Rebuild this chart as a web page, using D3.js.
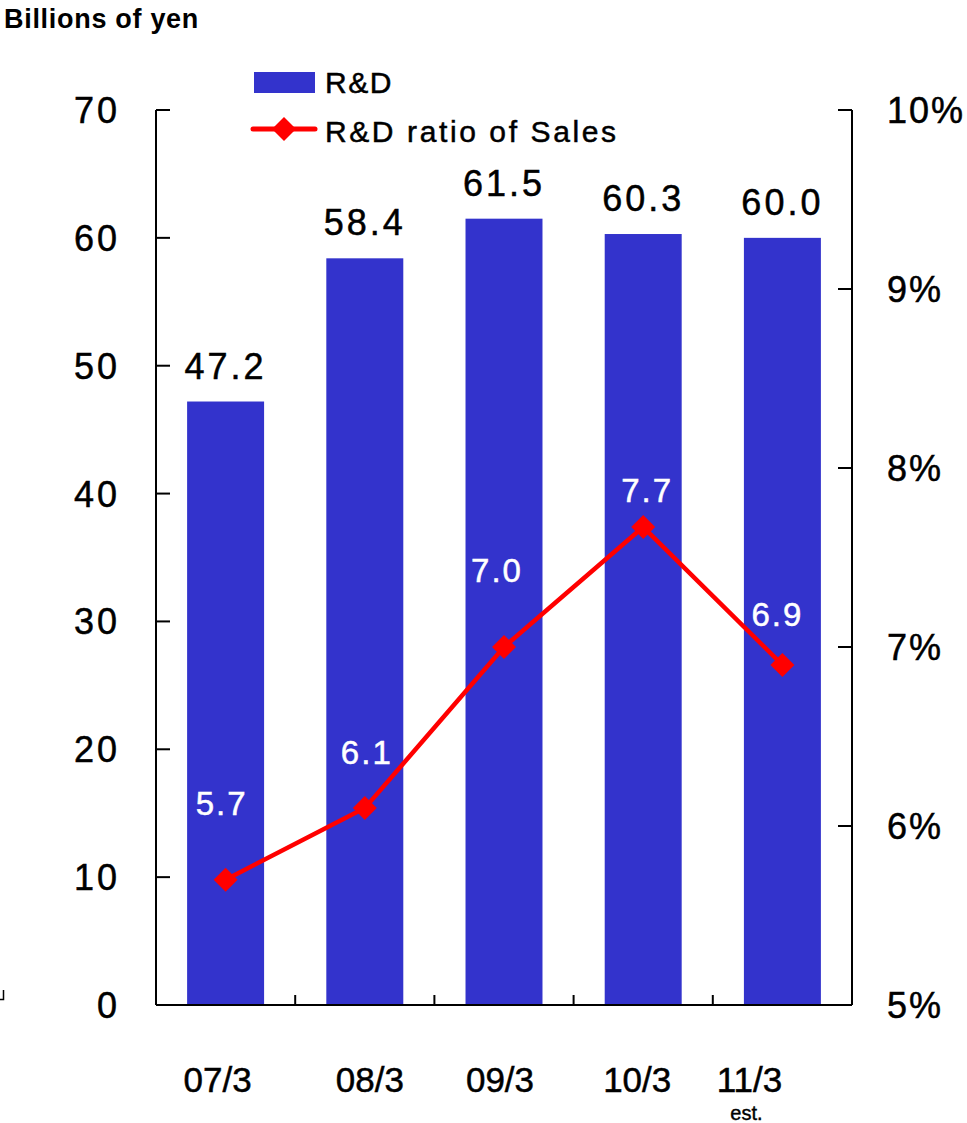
<!DOCTYPE html>
<html>
<head>
<meta charset="utf-8">
<script src="https://cdn.jsdelivr.net/npm/d3@7"></script>
<style>
  html, body { margin: 0; padding: 0; background: #fff; }
  svg { display: block; font-family: "Liberation Sans", Arial, sans-serif; }
</style>
</head>
<body>
<svg id="chart" width="967" height="1123"></svg>
<script>
// ---- data ----
const categories = ["07/3", "08/3", "09/3", "10/3", "11/3"];
const rdValues = [47.2, 58.4, 61.5, 60.3, 60.0];
const ratioValues = [5.7, 6.1, 7.0, 7.67, 6.9];
const ratioLabels = ["5.7", "6.1", "7.0", "7.7", "6.9"];
const leftTicks = [0, 10, 20, 30, 40, 50, 60, 70];
const rightTicks = [5, 6, 7, 8, 9, 10];
const subLabel = "est.";

// ---- layout (label nudges, not data) ----
const ratioLabelOffsets = [[-4, -65], [2, -44], [-7, -65], [4, -25], [-5, -39]];
const xLabelOffsets = [-8, 5, -4, -6, -33];

(function () {
const svg = d3.select("#chart");
const pLeft = 156, pRight = 852, pTop = 110, pBottom = 1005;
const barColor = "#3333CC", lineColor = "#FF0000";

const x = d3.scaleBand().domain(categories).range([pLeft, pRight])
  .paddingInner(0.447).paddingOuter(0.2235);
const yL = d3.scaleLinear().domain([0, 70]).range([pBottom, pTop]);
const yR = d3.scaleLinear().domain([5, 10]).range([pBottom, pTop]);

// title
svg.append("text").attr("x", 4).attr("y", 28)
  .attr("font-size", 27).attr("font-weight", "bold").attr("letter-spacing", 0.7)
  .attr("fill", "#000").text("Billions of yen");

// bars
svg.selectAll("rect.bar").data(rdValues).join("rect")
  .attr("class", "bar")
  .attr("x", (d, i) => x(categories[i]))
  .attr("width", x.bandwidth())
  .attr("y", d => yL(d))
  .attr("height", d => yL(0) - yL(d))
  .attr("fill", barColor);

// bar value labels
svg.selectAll("text.barlab").data(rdValues).join("text")
  .attr("class", "barlab")
  .attr("x", (d, i) => x(categories[i]) + x.bandwidth() / 2)
  .attr("y", d => yL(d) - 23)
  .attr("text-anchor", "middle")
  .attr("font-size", 36).attr("letter-spacing", 3)
  .attr("fill", "#000").attr("stroke", "#000").attr("stroke-width", 0.5)
  .text(d => d.toFixed(1));

// axes frame
const ax = svg.append("g").attr("stroke", "#000").attr("stroke-width", 2).attr("fill", "none");
ax.append("line").attr("x1", pLeft).attr("x2", pLeft).attr("y1", pTop).attr("y2", pBottom);
ax.append("line").attr("x1", pRight).attr("x2", pRight).attr("y1", pTop).attr("y2", pBottom);
ax.append("line").attr("x1", pLeft).attr("x2", pRight).attr("y1", pBottom).attr("y2", pBottom);

// left ticks (inward)
ax.selectAll("line.lt").data(leftTicks).join("line").attr("class", "lt")
  .attr("x1", pLeft).attr("x2", pLeft + 14)
  .attr("y1", d => yL(d)).attr("y2", d => yL(d));
// right ticks (inward)
ax.selectAll("line.rt").data(rightTicks).join("line").attr("class", "rt")
  .attr("x1", pRight - 14).attr("x2", pRight)
  .attr("y1", d => yR(d)).attr("y2", d => yR(d));
// bottom boundary ticks
const halfGap = (x.step() - x.bandwidth()) / 2;
ax.selectAll("line.bt").data(categories.slice(1)).join("line").attr("class", "bt")
  .attr("x1", d => x(d) - halfGap).attr("x2", d => x(d) - halfGap)
  .attr("y1", pBottom).attr("y2", pBottom - 10);

// left tick labels
svg.selectAll("text.ll").data(leftTicks).join("text").attr("class", "ll")
  .attr("x", 120).attr("y", d => yL(d) + 13)
  .attr("text-anchor", "end")
  .attr("font-size", 36).attr("letter-spacing", 3)
  .attr("fill", "#000").attr("stroke", "#000").attr("stroke-width", 0.5).text(d => d);

// right tick labels
svg.selectAll("text.rl").data(rightTicks).join("text").attr("class", "rl")
  .attr("x", 887).attr("y", d => yR(d) + 13)
  .attr("font-size", 36).attr("letter-spacing", 2)
  .attr("fill", "#000").attr("stroke", "#000").attr("stroke-width", 0.5).text(d => d + "%");

// x labels
svg.selectAll("text.xl").data(categories).join("text").attr("class", "xl")
  .attr("x", (d, i) => x(d) + x.bandwidth() / 2 + xLabelOffsets[i])
  .attr("y", 1092)
  .attr("text-anchor", "middle")
  .attr("font-size", 35)
  .attr("fill", "#000").attr("stroke", "#000").attr("stroke-width", 0.5).text(d => d);
svg.append("text")
  .attr("x", x(categories[4]) + x.bandwidth() / 2 - 36).attr("y", 1120)
  .attr("text-anchor", "middle").attr("font-size", 20)
  .attr("fill", "#000").attr("stroke", "#000").attr("stroke-width", 0.4).text(subLabel);

// ratio line
const px = (d, i) => x(categories[i]) + x.bandwidth() / 2;
const line = d3.line().x((d, i) => px(d, i)).y(d => yR(d));
svg.append("path").datum(ratioValues)
  .attr("d", line).attr("fill", "none")
  .attr("stroke", lineColor).attr("stroke-width", 4.5).attr("stroke-linejoin", "round");

const diamond = r => `M0,${-r}L${r},0L0,${r}L${-r},0Z`;
svg.selectAll("path.mk").data(ratioValues).join("path").attr("class", "mk")
  .attr("transform", (d, i) => `translate(${px(d, i)},${yR(d)})`)
  .attr("d", diamond(12)).attr("fill", lineColor);

// ratio labels (white)
svg.selectAll("text.rlab").data(ratioValues).join("text").attr("class", "rlab")
  .attr("x", (d, i) => px(d, i) + ratioLabelOffsets[i][0])
  .attr("y", (d, i) => yR(d) + ratioLabelOffsets[i][1])
  .attr("text-anchor", "middle")
  .attr("font-size", 33).attr("letter-spacing", 2)
  .attr("fill", "#fff").attr("stroke", "#fff").attr("stroke-width", 0.5).text((d, i) => ratioLabels[i]);

// legend
const lg = svg.append("g");
lg.append("rect").attr("x", 254).attr("y", 72).attr("width", 61).attr("height", 21).attr("fill", barColor);
lg.append("text").attr("x", 325).attr("y", 93).attr("font-size", 30).attr("letter-spacing", 1.5)
  .attr("fill", "#000").attr("stroke", "#000").attr("stroke-width", 0.5).text("R&D");
lg.append("line").attr("x1", 253).attr("x2", 315).attr("y1", 129).attr("y2", 129)
  .attr("stroke", lineColor).attr("stroke-width", 5).attr("stroke-linecap", "round");
lg.append("path").attr("transform", "translate(284,129)").attr("d", diamond(12)).attr("fill", lineColor);
lg.append("text").attr("x", 325).attr("y", 142).attr("font-size", 30).attr("letter-spacing", 2.6)
  .attr("fill", "#000").attr("stroke", "#000").attr("stroke-width", 0.5).text("R&D ratio of Sales");

// stray corner mark at left edge
svg.append("path").attr("d", "M0,999.5H3.5V990").attr("fill", "none")
  .attr("stroke", "#000").attr("stroke-width", 1.5);
})();
</script>
</body>
</html>
